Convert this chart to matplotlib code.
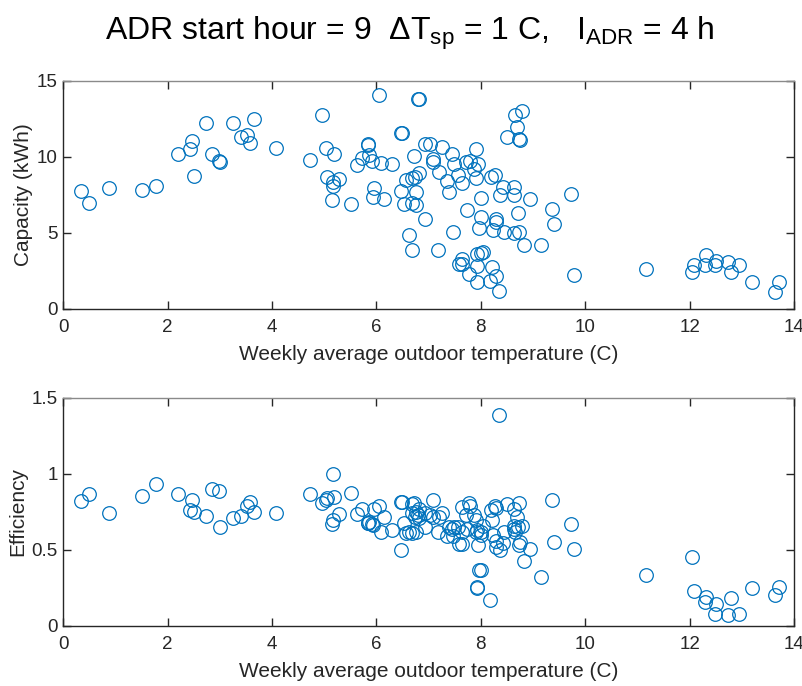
import numpy as np
import matplotlib
matplotlib.use("Agg")
import matplotlib.pyplot as plt

plt.rcParams['font.family'] = ['Liberation Sans', 'DejaVu Sans']
plt.rcParams['mathtext.fontset'] = 'custom'
plt.rcParams['mathtext.rm'] = 'Liberation Sans'
plt.rcParams['mathtext.it'] = 'Liberation Sans:italic'

# weekly average outdoor temperature (C)
temperature = [
    0.34, 0.50, 0.88, 1.51, 1.78, 2.20, 2.43, 2.47, 2.51, 2.73,
    2.85, 2.99, 3.00, 3.26, 3.41, 3.52, 3.58, 3.66, 4.07, 4.72,
    4.96, 5.03, 5.05, 5.15, 5.17, 5.17, 5.18, 5.28, 5.52, 5.63,
    5.72, 5.83, 5.84, 5.86, 5.92, 5.94, 5.96, 6.04, 6.09, 6.14,
    6.30, 6.47, 6.48, 6.49, 6.53, 6.56, 6.63, 6.68, 6.68, 6.69,
    6.72, 6.73, 6.75, 6.76, 6.80, 6.81, 6.81, 6.93, 6.93, 7.02,
    7.08, 7.08, 7.18, 7.20, 7.26, 7.35, 7.39, 7.44, 7.47, 7.49,
    7.57, 7.59, 7.63, 7.63, 7.63, 7.71, 7.73, 7.77, 7.79, 7.87,
    7.90, 7.91, 7.92, 7.92, 7.93, 7.95, 7.96, 8.00, 8.00, 8.00,
    8.05, 8.17, 8.20, 8.21, 8.24, 8.28, 8.30, 8.30, 8.30, 8.35,
    8.37, 8.43, 8.44, 8.50, 8.63, 8.63, 8.64, 8.65, 8.69, 8.72,
    8.74, 8.74, 8.75, 8.79, 8.83, 8.94, 9.15, 9.37, 9.40, 9.72,
    9.78, 11.16, 12.05, 12.09, 12.30, 12.31, 12.48, 12.51, 12.73, 12.79,
    12.94, 13.20, 13.63, 13.71,
]

# storage capacity (kWh)
capacity = [
    7.78, 6.94, 7.95, 7.82, 8.06, 10.17, 10.54, 11.03, 8.76, 12.21,
    10.19, 9.75, 9.70, 12.21, 11.31, 11.42, 10.90, 12.48, 10.57, 9.82,
    12.78, 10.61, 8.70, 7.20, 8.35, 8.10, 10.19, 8.52, 6.92, 9.45,
    9.93, 10.85, 10.80, 10.10, 9.71, 7.34, 7.93, 14.10, 9.58, 7.25,
    9.51, 7.78, 11.60, 11.55, 6.92, 8.48, 4.87, 6.98, 8.59, 3.87,
    10.04, 8.70, 6.85, 7.69, 13.81, 13.78, 8.94, 10.87, 5.93, 10.87,
    9.84, 9.68, 3.87, 9.03, 10.67, 8.41, 7.69, 10.17, 5.05, 9.51,
    8.81, 2.99, 8.26, 3.32, 2.99, 9.68, 6.50, 2.29, 9.73, 9.18,
    10.50, 8.63, 2.81, 1.76, 3.62, 9.51, 5.32, 7.29, 6.06, 3.71,
    3.75, 1.84, 8.70, 2.77, 5.20, 8.83, 5.95, 5.69, 2.17, 1.15,
    7.49, 8.00, 5.05, 11.31, 8.00, 7.49, 4.97, 12.78, 11.97, 6.32,
    5.07, 11.16, 11.13, 13.04, 4.22, 7.23, 4.22, 6.55, 5.56, 7.54,
    2.22, 2.64, 2.42, 2.92, 2.86, 3.58, 2.90, 3.14, 3.10, 2.44,
    2.88, 1.80, 1.12, 1.80,
]

# ADR efficiency
efficiency = [
    0.823, 0.870, 0.744, 0.854, 0.933, 0.870, 0.760, 0.828, 0.753, 0.722,
    0.900, 0.885, 0.648, 0.711, 0.725, 0.790, 0.815, 0.749, 0.740, 0.868,
    0.810, 0.830, 0.840, 0.672, 0.700, 1.000, 0.850, 0.736, 0.874, 0.738,
    0.769, 0.680, 0.675, 0.685, 0.670, 0.665, 0.770, 0.790, 0.615, 0.720,
    0.632, 0.500, 0.817, 0.815, 0.680, 0.610, 0.620, 0.800, 0.610, 0.740,
    0.810, 0.720, 0.620, 0.750, 0.730, 0.770, 0.710, 0.654, 0.740, 0.730,
    0.826, 0.720, 0.620, 0.720, 0.740, 0.590, 0.650, 0.640, 0.590, 0.650,
    0.650, 0.540, 0.780, 0.540, 0.620, 0.730, 0.640, 0.810, 0.790, 0.730,
    0.700, 0.620, 0.255, 0.250, 0.630, 0.533, 0.370, 0.600, 0.365, 0.620,
    0.660, 0.171, 0.760, 0.700, 0.600, 0.790, 0.775, 0.520, 0.560, 1.390,
    0.500, 0.545, 0.620, 0.800, 0.770, 0.660, 0.640, 0.620, 0.720, 0.650,
    0.530, 0.810, 0.550, 0.660, 0.430, 0.505, 0.320, 0.826, 0.555, 0.672,
    0.505, 0.336, 0.457, 0.233, 0.160, 0.193, 0.077, 0.145, 0.070, 0.182,
    0.077, 0.252, 0.204, 0.255,
]

blue = '#0072BD'
dark = '#262626'

fig = plt.figure(figsize=(8.03, 6.86), dpi=100)
ax1 = fig.add_axes([0.0788, 0.5496, 0.910, 0.3324])
ax2 = fig.add_axes([0.0788, 0.0875, 0.910, 0.3324])


def style(ax, ylim, yticks, ylabel):
    ax.set_xlim(0, 14)
    ax.set_xticks(np.arange(0, 15, 2))
    ax.set_ylim(*ylim)
    ax.set_yticks(yticks)
    ax.tick_params(direction='in', length=6, width=1, colors=dark,
                   labelsize=13.5, top=True, right=True)
    ax.tick_params(axis='x', pad=7.5)
    ax.tick_params(axis='y', pad=4)
    for side in ['left', 'right', 'bottom']:
        ax.spines[side].set_color(dark)
        ax.spines[side].set_linewidth(1)
    ax.spines['top'].set_color('#8a8a8a')
    ax.spines['top'].set_linewidth(1)
    ax.set_xlabel('Weekly average outdoor temperature (C)', fontsize=15,
                  color=dark, labelpad=6.5)
    ax.set_ylabel(ylabel, fontsize=15, color=dark, labelpad=3)


ax1.plot(temperature, capacity, 'o', mfc='none', mec=blue, ms=9.8, mew=0.9)
style(ax1, (0, 15), [0, 5, 10, 15], 'Capacity (kWh)')

ax2.plot(temperature, efficiency, 'o', mfc='none', mec=blue, ms=9.8, mew=0.9)
style(ax2, (0, 1.5), [0, 0.5, 1, 1.5], 'Efficiency')
ax2.set_yticklabels(['0', '0.5', '1', '1.5'])

fig.text(0.51, 0.952,
         r'ADR start hour = 9  $\Delta$T$_{\mathrm{sp}}$ = 1 C,   I$_{\mathrm{ADR}}$ = 4 h',
         ha='center', va='center', fontsize=23, color='black')

fig.savefig('out.png', dpi=100)
